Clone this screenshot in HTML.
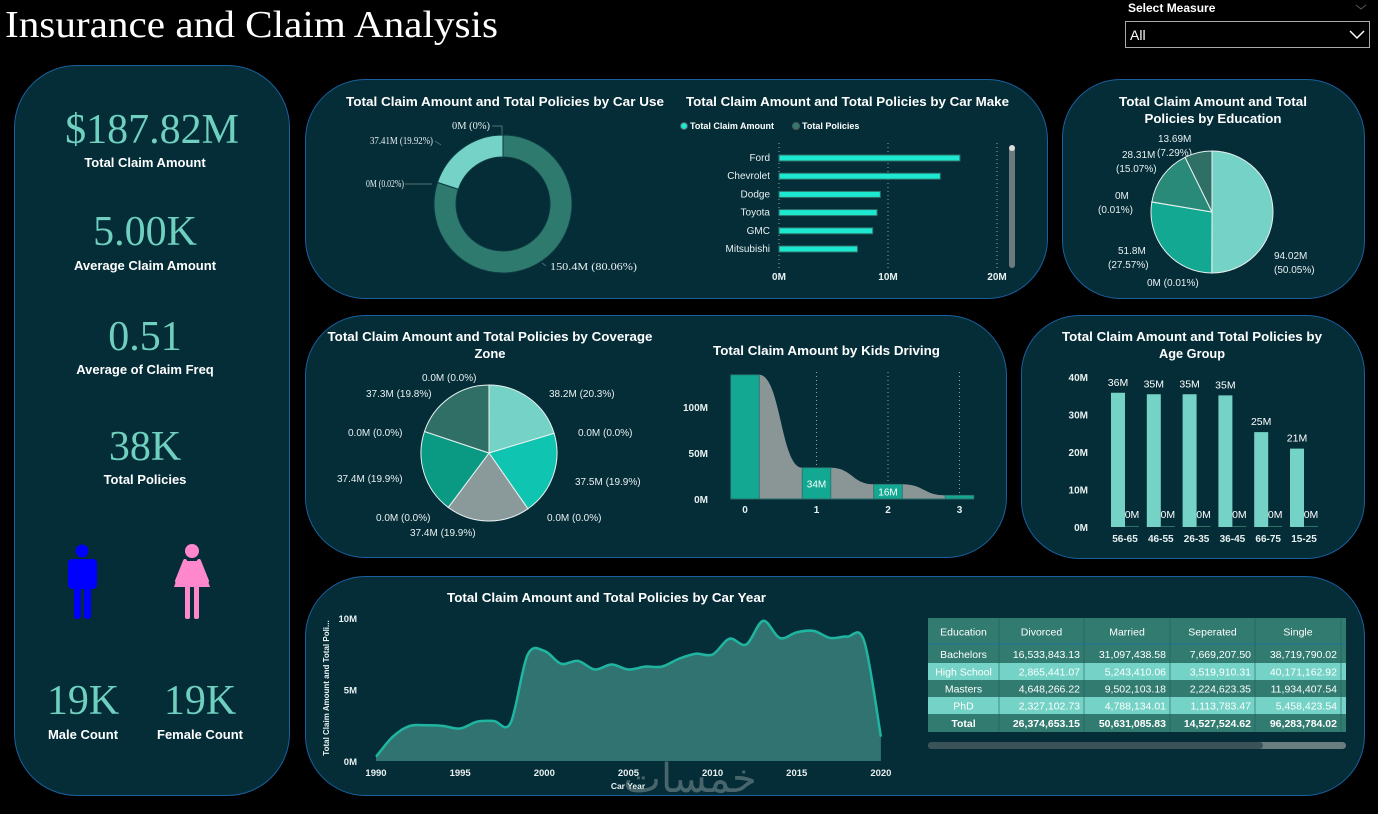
<!DOCTYPE html>
<html><head><meta charset="utf-8">
<style>
html,body{margin:0;padding:0;background:#000;width:1378px;height:814px;overflow:hidden;font-family:"Liberation Sans",sans-serif}
svg{position:absolute;left:0;top:0}
.t{font-family:"Liberation Sans",sans-serif;font-weight:bold;fill:#fff}
.s{font-family:"Liberation Sans",sans-serif;fill:#e8f0f0;font-size:10px}
.sf{font-family:"Liberation Serif",serif;fill:#e8f0f0;font-size:10px}
.kpi{font-family:"Liberation Serif",serif;fill:#6fd0bf;font-size:42px}
.kl{font-family:"Liberation Sans",sans-serif;font-weight:bold;fill:#fff;font-size:13px}
</style></head>
<body>
<svg id="dash" width="1378" height="814" viewBox="0 0 1378 814" xmlns="http://www.w3.org/2000/svg">
<text x="5" y="37" font-family="Liberation Serif,serif" font-size="38" fill="#fff" textLength="493" lengthAdjust="spacingAndGlyphs">Insurance and Claim Analysis</text>
<text x="1128" y="12" class="t" font-size="12">Select Measure</text>
<path d="M1356 5 l5 4 l5 -4" stroke="#555" fill="none"/>
<g>
<rect x="1125.5" y="21.5" width="244" height="26" fill="#000" stroke="#aaa"/>
<text x="1130" y="40" font-size="14" fill="#fff" font-family="Liberation Sans,sans-serif">All</text>
<path d="M1350 31 l7 7 l7 -7" stroke="#fff" stroke-width="1.5" fill="none"/>
</g>
<g fill="#042d38" stroke="#1a5f9e" stroke-width="1">
<rect x="14.5" y="65.5" width="275" height="730" rx="62"/>
<rect x="305.5" y="79.5" width="742" height="219" rx="60"/>
<rect x="1062.5" y="79.5" width="302" height="219" rx="58"/>
<rect x="305.5" y="315.5" width="701" height="242" rx="60"/>
<rect x="1021.5" y="315.5" width="343" height="243" rx="58"/>
<rect x="305.5" y="576.5" width="1059" height="219" rx="60"/>
</g>
<text x="152" y="143" text-anchor="middle" class="kpi">$187.82M</text>
<text x="145" y="167" text-anchor="middle" class="kl">Total Claim Amount</text>
<text x="145" y="245" text-anchor="middle" class="kpi">5.00K</text>
<text x="145" y="270" text-anchor="middle" class="kl">Average Claim Amount</text>
<text x="145" y="350" text-anchor="middle" class="kpi">0.51</text>
<text x="145" y="374" text-anchor="middle" class="kl">Average of Claim Freq</text>
<text x="145" y="460" text-anchor="middle" class="kpi">38K</text>
<text x="145" y="484" text-anchor="middle" class="kl">Total Policies</text>
<g fill="#0000ff">
<circle cx="82" cy="551" r="6.5"/><rect x="68" y="559" width="29" height="30" rx="4"/><rect x="74" y="585" width="7" height="34" rx="3"/><rect x="84" y="585" width="7" height="34" rx="3"/>
</g>
<g fill="#ff88cc">
<circle cx="192" cy="551" r="7"/><path d="M183 561 h18 l9 26 h-36 z"/><path d="M185 561 l-8 20" stroke="#ff88cc" stroke-width="4" stroke-linecap="round"/><path d="M199 561 l8 20" stroke="#ff88cc" stroke-width="4" stroke-linecap="round"/><rect x="185" y="585" width="5" height="34" rx="2"/><rect x="194" y="585" width="5" height="34" rx="2"/>
</g>
<text x="83" y="714" text-anchor="middle" class="kpi">19K</text>
<text x="83" y="739" text-anchor="middle" class="kl">Male Count</text>
<text x="200" y="714" text-anchor="middle" class="kpi">19K</text>
<text x="200" y="739" text-anchor="middle" class="kl">Female Count</text>
<text x="346" y="106" class="t" font-size="13" textLength="318" lengthAdjust="spacingAndGlyphs">Total Claim Amount and Total Policies by Car Use</text>
<text x="686" y="106" class="t" font-size="13" textLength="323" lengthAdjust="spacingAndGlyphs">Total Claim Amount and Total Policies by Car Make</text>
<text x="1213" y="106" text-anchor="middle" class="t" font-size="13" textLength="188" lengthAdjust="spacingAndGlyphs">Total Claim Amount and Total</text>
<text x="1213" y="123" text-anchor="middle" class="t" font-size="13" textLength="137" lengthAdjust="spacingAndGlyphs">Policies by Education</text>
<text x="490" y="341" text-anchor="middle" class="t" font-size="13" textLength="325" lengthAdjust="spacingAndGlyphs">Total Claim Amount and Total Policies by Coverage</text>
<text x="490" y="358" text-anchor="middle" class="t" font-size="13">Zone</text>
<text x="713" y="355" class="t" font-size="13" textLength="227" lengthAdjust="spacingAndGlyphs">Total Claim Amount by Kids Driving</text>
<text x="1192" y="341" text-anchor="middle" class="t" font-size="13" textLength="260" lengthAdjust="spacingAndGlyphs">Total Claim Amount and Total Policies by</text>
<text x="1192" y="358" text-anchor="middle" class="t" font-size="13" textLength="66" lengthAdjust="spacingAndGlyphs">Age Group</text>
<text x="447" y="602" class="t" font-size="13" textLength="319" lengthAdjust="spacingAndGlyphs">Total Claim Amount and Total Policies by Car Year</text>
<circle cx="684" cy="126" r="3.5" fill="#1de9d0" stroke="#555"/>
<text x="690" y="129" class="t" font-size="9">Total Claim Amount</text>
<circle cx="796" cy="126" r="3.5" fill="#2f7a6e" stroke="#555"/>
<text x="802" y="129" class="t" font-size="9">Total Policies</text>
<rect x="1009" y="146" width="6" height="122" rx="3" fill="#6b7b7d"/>
<circle cx="1012" cy="148" r="3" fill="#ddd"/>
<g class="sf">
<text x="452" y="129" textLength="38" lengthAdjust="spacingAndGlyphs">0M (0%)</text>
<text x="370" y="144" textLength="63" lengthAdjust="spacingAndGlyphs">37.41M (19.92%)</text>
<text x="366" y="187" textLength="38" lengthAdjust="spacingAndGlyphs">0M (0.02%)</text>
<text x="550" y="270" textLength="87" lengthAdjust="spacingAndGlyphs">150.4M (80.06%)</text>
</g>
<g stroke="#6a8a8a" stroke-width="0.7" fill="none">
<path d="M492 126 h10 v10"/><path d="M435 141 l6 4"/><path d="M405 184 h27"/><path d="M546 266 l-4 -3"/>
</g>
<g class="s">
<text x="1158" y="142">13.69M</text><text x="1157" y="156">(7.29%)</text>
<text x="1122" y="158">28.31M</text><text x="1116" y="172">(15.07%)</text>
<text x="1115" y="199">0M</text><text x="1098" y="213">(0.01%)</text>
<text x="1118" y="254">51.8M</text><text x="1108" y="268">(27.57%)</text>
<text x="1147" y="286">0M (0.01%)</text>
<text x="1274" y="259">94.02M</text><text x="1274" y="273">(50.05%)</text>
</g>
<g class="s">
<text x="422" y="381">0.0M (0.0%)</text>
<text x="366" y="397">37.3M (19.8%)</text>
<text x="348" y="436">0.0M (0.0%)</text>
<text x="337" y="482">37.4M (19.9%)</text>
<text x="376" y="521">0.0M (0.0%)</text>
<text x="410" y="536">37.4M (19.9%)</text>
<text x="549" y="397">38.2M (20.3%)</text>
<text x="578" y="436">0.0M (0.0%)</text>
<text x="575" y="485">37.5M (19.9%)</text>
<text x="547" y="521">0.0M (0.0%)</text>
</g>
<g id="charts"></g>
<g id="tbl"></g>
<rect x="928" y="742" width="418" height="7" rx="3.5" fill="#6b7d7f"/>
<rect x="928" y="742" width="335" height="7" rx="3.5" fill="#3b5358"/>
<text x="690" y="792" text-anchor="middle" font-family="DejaVu Sans,sans-serif" font-size="40" fill="#9aa" opacity="0.45">خمسات</text>
</svg>
<script>
const NS='http://www.w3.org/2000/svg';
const root=document.getElementById('charts');
function el(tag,attrs,name,parent){
  const e=document.createElementNS(NS,tag);
  for(const k in attrs)e.setAttribute(k,attrs[k]);
  
  
  (parent||root).appendChild(e);return e;
}
function txt(x,y,s,name,o){o=o||{};const t=el('text',Object.assign({x:x,y:y,'font-family':'Liberation Sans,sans-serif','font-size':o.size||10,fill:o.fill||'#e8f0f0','font-weight':o.bold?'bold':'normal','text-anchor':o.anchor||'start'},o.extra||{}),name,o.parent);t.textContent=s;return t;}
function arc(cx,cy,r,ri,a0,a1){
  const p=(a,rr)=>[cx+rr*Math.sin(a),cy-rr*Math.cos(a)];
  const lg=(a1-a0)>Math.PI?1:0;const[x0,y0]=p(a0,r),[x1,y1]=p(a1,r);
  if(!ri)return `M${cx} ${cy}L${x0} ${y0}A${r} ${r} 0 ${lg} 1 ${x1} ${y1}Z`;
  const[x2,y2]=p(a1,ri),[x3,y3]=p(a0,ri);
  return `M${x0} ${y0}A${r} ${r} 0 ${lg} 1 ${x1} ${y1}L${x2} ${y2}A${ri} ${ri} 0 ${lg} 0 ${x3} ${y3}Z`;
}
function pie(vals,cols,cx,cy,r,ri,name,stroke){
  const tot=vals.reduce((a,b)=>a+b,0);let a=0;
  vals.forEach((v,i)=>{const a1=a+v/tot*2*Math.PI;if(v>0)el('path',{d:arc(cx,cy,r,ri,a,a1),fill:cols[i],stroke:stroke||'#e8f0f0','stroke-width':1},name+'-slice-'+i);a=a1;});
}

const carUseCats=['Private','Commercial','Other','Unknown'];
const carUseVals=[150.4,0.04,37.41,0.001];
const carMakeCats=['Ford','Chevrolet','Dodge','Toyota','GMC','Mitsubishi'];
const carMakeVals=[16.6,14.8,9.3,9.0,8.6,7.2];
const carMakeTicks=['0M','10M','20M'];
const eduCats=['Bachelors','PhD-0','High School','Masters-0','Masters','PhD'];
const eduVals=[94.02,0.02,51.8,0.02,28.31,13.69];
const zoneCats=['Urban','U0','Suburban','S0','Rural','R0','Semi','M0','Remote','X0'];
const zoneVals=[38.2,0.01,37.5,0.01,37.4,0.01,37.4,0.01,37.3,0.01];
const kidsCats=[0,1,2,3];
const kidsVals=[135,34,16,4];
const kidsLabels=['','34M','16M',''];
const kidsTicks=[0,50,100];
const ageCats=['56-65','46-55','26-35','36-45','66-75','15-25'];
const ageClaim=[35.8,35.4,35.4,35.1,25.3,20.9];
const agePolicies=[0.01,0.01,0.01,0.01,0.01,0.01];
const ageClaimLabels=['36M','35M','35M','35M','25M','21M'];
const ageTicks=[0,10,20,30,40];
const years=[1990,1991,1992,1993,1994,1995,1996,1997,1998,1999,2000,2001,2002,2003,2004,2005,2006,2007,2008,2009,2010,2011,2012,2013,2014,2015,2016,2017,2018,2019,2020];
const yearVals=[0.3,1.7,2.45,2.5,2.45,2.27,2.75,2.8,2.67,7.4,7.7,6.8,7.0,6.4,6.75,6.4,6.6,6.6,7.15,7.5,7.45,8.55,8.15,9.8,8.6,9.0,9.1,8.6,8.7,8.4,1.7];
const yearTicks=[1990,1995,2000,2005,2010,2015,2020];
const yearYTicks=[0,5,10];
const tblCols=['Education','Divorced','Married','Seperated','Single'];
const tblRows=[['Bachelors','16,533,843.13','31,097,438.58','7,669,207.50','38,719,790.02'],
['High School','2,865,441.07','5,243,410.06','3,519,910.31','40,171,162.92'],
['Masters','4,648,266.22','9,502,103.18','2,224,623.35','11,934,407.54'],
['PhD','2,327,102.73','4,788,134.01','1,113,783.47','5,458,423.54'],
['Total','26,374,653.15','50,631,085.83','14,527,524.62','96,283,784.02']];

pie(carUseVals,['#2f7a6e','#9ab','#74d3c6','#9ab'],503,204,69,47,'car-use','#0d3a40');

const mx=v=>779+v*10.9;
carMakeTicks.forEach((t,i)=>{const x=mx(i*10);
  el('line',{x1:x,y1:143,x2:x,y2:268,stroke:'#8aa',"stroke-dasharray":'1 3'},'car-make-gridline');
  txt(x,280,t,'car-make-tick',{anchor:'middle',bold:true});});
carMakeCats.forEach((c,i)=>{const y=158+i*18.2;
  el('rect',{x:mx(0),y:y-3,width:mx(carMakeVals[i])-mx(0),height:6,fill:'#1de9d0',stroke:'#2f6f66','stroke-width':1},'car-make-bar');
  txt(770,y+3,c,'car-make-label',{anchor:'end',size:10});});

pie(eduVals,['#74d3c6','#74d3c6','#12a892','#12a892','#2a8a7a','#2f6f66'],1212,212,61,0,'education');

pie(zoneVals,['#74d3c6','#74d3c6','#0fc4b0','#0fc4b0','#8a9a9a','#8a9a9a','#0a9a84','#0a9a84','#2f6f66','#2f6f66'],489,453,68,0,'coverage');

const kx=v=>745+v*71.5, ky=v=>499-v*0.92;
kidsCats.slice(1).forEach(c=>el('line',{x1:kx(c),y1:372,x2:kx(c),y2:499,stroke:'#8aa','stroke-dasharray':'1 3'},'kids-gridline'));
let d=`M${kx(-0.2)} ${ky(0)}`;
kidsCats.forEach((c,i)=>{d+=`L${kx(c-0.2)} ${ky(kidsVals[i])}L${kx(c+0.2)} ${ky(kidsVals[i])}`;
  if(i<kidsCats.length-1){const xa=kx(c+0.2),xb=kx(c+0.8),xm=(xa+xb)/2;d+=`C${xm} ${ky(kidsVals[i])} ${xm} ${ky(kidsVals[i+1])} ${xb} ${ky(kidsVals[i+1])}`;}});
d+=`L${kx(3.2)} ${ky(0)}Z`;
el('path',{d:d,fill:'#8a9696'},'kids-ribbon');
kidsCats.forEach((c,i)=>{el('rect',{x:kx(c-0.2),y:ky(kidsVals[i]),width:kx(0.4)-kx(0),height:ky(0)-ky(kidsVals[i]),fill:'#12a892',stroke:'#2a6f6a','stroke-width':0.8},'kids-bar');
  if(kidsLabels[i])txt(kx(c),ky(kidsVals[i]/2)+4,kidsLabels[i],'kids-bar-label',{anchor:'middle',size:10,fill:'#fff'});
  txt(kx(c),513,String(c),'kids-x-tick',{anchor:'middle',bold:true});});
kidsTicks.forEach(t=>txt(708,ky(t)+4,t+'M','kids-y-tick',{anchor:'end',bold:true}));
el('line',{x1:kx(-0.2),y1:ky(0),x2:kx(3.2),y2:ky(0),stroke:'#2a6f6a'},'kids-baseline');

const ax=i=>1111+i*35.8, ay=v=>527-v*3.75;
ageTicks.forEach(t=>txt(1088,ay(t)+4,t+'M','age-y-tick',{anchor:'end',bold:true}));
ageCats.forEach((c,i)=>{const x=ax(i);
  el('rect',{x:x,y:ay(ageClaim[i]),width:14,height:ay(0)-ay(ageClaim[i]),fill:'#74d3c6'},'age-claim-bar');
  el('rect',{x:x+14,y:ay(agePolicies[i])-1,width:14,height:ay(0)-ay(agePolicies[i])+1,fill:'#2f6f66'},'age-policies-bar');
  txt(x+7,ay(ageClaim[i])-7,ageClaimLabels[i],'age-claim-label',{anchor:'middle',size:10.5,fill:'#fff'});
  txt(x+21,518,'0M','age-policies-label',{anchor:'middle',size:10.5,fill:'#fff'});
  txt(x+14,542,c,'age-x-tick',{anchor:'middle',bold:true});});

const yx=y=>376+(y-1990)*16.83, yy=v=>761-v*14.3;
const pts=years.map((y,i)=>[yx(y),yy(yearVals[i])]);
let ld=`M${pts[0][0]} ${pts[0][1]}`;
for(let i=0;i<pts.length-1;i++){const p0=pts[Math.max(0,i-1)],p1=pts[i],p2=pts[i+1],p3=pts[Math.min(pts.length-1,i+2)];
  const c1=[p1[0]+(p2[0]-p0[0])/6,p1[1]+(p2[1]-p0[1])/6],c2=[p2[0]-(p3[0]-p1[0])/6,p2[1]-(p3[1]-p1[1])/6];
  ld+=`C${c1[0]} ${c1[1]} ${c2[0]} ${c2[1]} ${p2[0]} ${p2[1]}`;}
el('path',{d:ld+`L${yx(2020)} ${yy(0)}L${yx(1990)} ${yy(0)}Z`,fill:'#317370'},'car-year-area');
el('path',{d:ld,fill:'none',stroke:'#1fb5a0','stroke-width':2.5},'car-year-line');
yearTicks.forEach(t=>txt(yx(t),776,String(t),'car-year-x-tick',{anchor:'middle',bold:true,size:9.5}));
yearYTicks.forEach(t=>txt(357,yy(t)+4,t+'M','car-year-y-tick',{anchor:'end',bold:true,size:9.5}));
txt(628,789,'Car Year','car-year-x-title',{anchor:'middle',bold:true,size:8.5});
txt(0,0,'Total Claim Amount and Total Poli...','car-year-y-title',{anchor:'middle',bold:true,size:8,extra:{transform:'translate(329,688) rotate(-90)'}});

const tg=document.getElementById('tbl');
const colX=[928,999,1084,1170,1255,1341,1346];
const rowY=[618,645,663,680,697,714,732];
const rowFill=['#327b70','#327b70','#74d3c6','#327b70','#74d3c6','#327b70'];
for(let r=0;r<6;r++){
  el('rect',{x:928,y:rowY[r],width:418,height:rowY[r+1]-rowY[r],fill:rowFill[r]},'table-row-bg',tg);
  const cells=r===0?tblCols:tblRows[r-1];
  cells.forEach((c,j)=>{const x=j===0?(colX[0]+colX[1])/2:(r===0?(colX[j]+colX[j+1])/2:colX[j+1]-4);
    txt(x,(rowY[r]+rowY[r+1])/2+4,c,r===0?'table-header-cell':'table-cell',{parent:tg,anchor:(j===0||r===0)?'middle':'end',size:10.5,fill:'#fff',bold:r===5});});
}
for(let j=1;j<6;j++)el('line',{x1:colX[j],y1:618,x2:colX[j],y2:732,stroke:'#1f5f5a','stroke-width':0.6},'table-col-divider',tg);
el('line',{x1:928,y1:644,x2:1346,y2:644,stroke:'#1a6fb0','stroke-width':1,'stroke-dasharray':'2 1'},'table-header-divider',tg);
</script>
</body></html>
